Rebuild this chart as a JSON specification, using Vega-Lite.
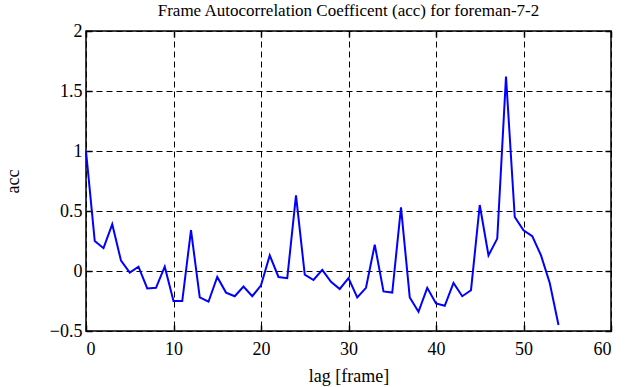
{
  "$schema": "https://vega.github.io/schema/vega-lite/v6.json",
  "width": 525,
  "height": 300,
  "autosize": "none",
  "padding": {"left": 86, "top": 31, "right": 19, "bottom": 56},
  "background": "white",
  "config": {
    "font": "Liberation Serif",
    "view": {"stroke": "black", "strokeWidth": 1.5},
    "style": {"guide-label": {"font": "Liberation Serif"}, "guide-title": {"font": "Liberation Serif"}},
    "axis": {
      "domain": false,
      "grid": true,
      "gridColor": "black",
      "gridDash": [6, 4],
      "gridWidth": 1,
      "gridOpacity": 1,
      "tickColor": "black",
      "tickSize": -6,
      "tickWidth": 1.5,
      "labelFont": "Liberation Serif",
      "labelFontSize": 18,
      "labelColor": "black",
      "titleFont": "Liberation Serif",
      "titleFontSize": 18,
      "titleFontWeight": "normal",
      "titleColor": "black"
    },
    "title": {"font": "Liberation Serif", "fontSize": 17, "fontWeight": "normal", "color": "black"}
  },
  "title": {"text": "Frame Autocorrelation Coefficent (acc) for foreman-7-2", "offset": 2},
  "data": {
    "values": [
      {"lag": 0, "acc": 1.0},
      {"lag": 1, "acc": 0.25},
      {"lag": 2, "acc": 0.19},
      {"lag": 3, "acc": 0.39},
      {"lag": 4, "acc": 0.086},
      {"lag": 5, "acc": -0.014},
      {"lag": 6, "acc": 0.036},
      {"lag": 7, "acc": -0.145},
      {"lag": 8, "acc": -0.14},
      {"lag": 9, "acc": 0.036},
      {"lag": 10, "acc": -0.25},
      {"lag": 11, "acc": -0.25},
      {"lag": 12, "acc": 0.34},
      {"lag": 13, "acc": -0.22},
      {"lag": 14, "acc": -0.256},
      {"lag": 15, "acc": -0.05},
      {"lag": 16, "acc": -0.18},
      {"lag": 17, "acc": -0.21},
      {"lag": 18, "acc": -0.13},
      {"lag": 19, "acc": -0.21},
      {"lag": 20, "acc": -0.12},
      {"lag": 21, "acc": 0.13},
      {"lag": 22, "acc": -0.05},
      {"lag": 23, "acc": -0.06},
      {"lag": 24, "acc": 0.63},
      {"lag": 25, "acc": -0.03},
      {"lag": 26, "acc": -0.075},
      {"lag": 27, "acc": 0.01},
      {"lag": 28, "acc": -0.09},
      {"lag": 29, "acc": -0.15},
      {"lag": 30, "acc": -0.06},
      {"lag": 31, "acc": -0.22},
      {"lag": 32, "acc": -0.14},
      {"lag": 33, "acc": 0.22},
      {"lag": 34, "acc": -0.17},
      {"lag": 35, "acc": -0.18},
      {"lag": 36, "acc": 0.53},
      {"lag": 37, "acc": -0.22},
      {"lag": 38, "acc": -0.34},
      {"lag": 39, "acc": -0.14},
      {"lag": 40, "acc": -0.27},
      {"lag": 41, "acc": -0.29},
      {"lag": 42, "acc": -0.1},
      {"lag": 43, "acc": -0.21},
      {"lag": 44, "acc": -0.16},
      {"lag": 45, "acc": 0.55},
      {"lag": 46, "acc": 0.13},
      {"lag": 47, "acc": 0.27},
      {"lag": 48, "acc": 1.62},
      {"lag": 49, "acc": 0.45},
      {"lag": 50, "acc": 0.34},
      {"lag": 51, "acc": 0.29},
      {"lag": 52, "acc": 0.13},
      {"lag": 53, "acc": -0.1},
      {"lag": 54, "acc": -0.45}
    ]
  },
  "layer": [
    {
      "mark": {"type": "line", "color": "#0000ff", "strokeWidth": 2},
      "encoding": {
        "x": {"field": "lag", "type": "quantitative", "scale": {"domain": [0, 60], "nice": false, "zero": false},
              "axis": {"title": "lag [frame]", "values": [0, 10, 20, 30, 40, 50, 60], "format": "d", "labelFont": "Liberation Serif", "titleFont": "Liberation Serif", "labelPadding": 15, "titlePadding": 9}},
        "y": {"field": "acc", "type": "quantitative", "scale": {"domain": [-0.5, 2], "nice": false, "zero": false},
              "axis": {"title": "acc", "values": [-0.5, 0, 0.5, 1, 1.5, 2], "format": "~g", "labelFont": "Liberation Serif", "titleFont": "Liberation Serif", "labelPadding": 10, "titlePadding": 27, "labelFlush": false}}
      }
    },
    {
      "mark": {"type": "line", "opacity": 0},
      "encoding": {
        "x": {"field": "lag", "type": "quantitative", "scale": {"domain": [0, 60], "nice": false, "zero": false},
              "axis": {"orient": "top", "title": null, "labels": false, "grid": false, "values": [0, 10, 20, 30, 40, 50, 60]}},
        "y": {"field": "acc", "type": "quantitative", "scale": {"domain": [-0.5, 2], "nice": false, "zero": false},
              "axis": {"orient": "right", "title": null, "labels": false, "grid": false, "values": [-0.5, 0, 0.5, 1, 1.5, 2]}}
      }
    }
  ],
  "resolve": {"axis": {"x": "independent", "y": "independent"}}
}
